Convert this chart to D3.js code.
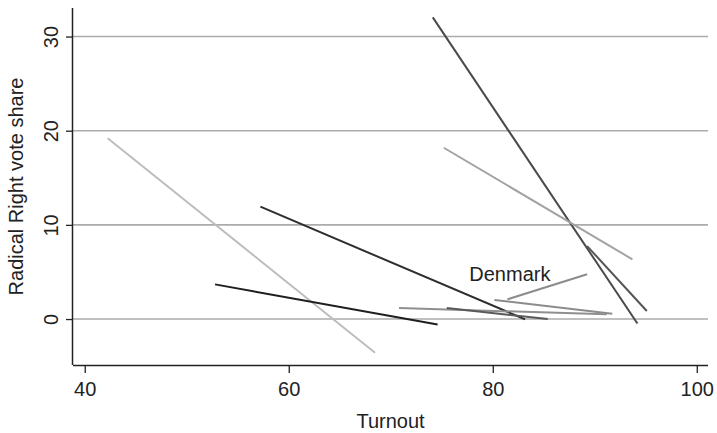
<!DOCTYPE html>
<html>
<head>
<meta charset="utf-8">
<script src="https://cdn.jsdelivr.net/npm/d3@7"></script>
<style>
  body { margin: 0; background: #fff; }
  text { font-family: "Liberation Sans", Arial, sans-serif; fill: #222; }
</style>
</head>
<body>
<svg id="chart" width="717" height="433"></svg>
<script>
// each segment = one country, turnout vs radical right vote share
var turnoutStart = [42.25, 52.77, 57.22, 74.12, 75.2, 89.25, 81.43, 80.16, 70.81, 75.49];
var voteStart    = [19.19, 3.68, 11.93, 32.04, 18.19, 7.75, 2.09, 2.02, 1.17, 1.17];
var turnoutEnd   = [68.46, 74.59, 83.17, 94.18, 93.69, 95.1, 89.25, 91.72, 91.18, 85.39];
var voteEnd      = [-3.58, -0.58, -0.03, -0.48, 6.34, 0.85, 4.75, 0.56, 0.5, 0.0];

var xTicks = [40, 60, 80, 100];
var yTicks = [0, 10, 20, 30];
var labelText = "Denmark";
var labelPos = [77.7, 4.07];

// line shades, same order as the segments
var shades = ["#bdbdbd", "#1e1e1e", "#2e2e2e", "#4a4a4a", "#a3a3a3", "#555", "#8c8c8c", "#8c8c8c", "#8f8f8f", "#5a5a5a"];

var svg = d3.select("#chart");
var plotLeft = 73, plotRight = 708, plotTop = 8, plotBottom = 365;   // "top" is taken by window.top

var x = d3.scaleLinear().domain([38.85, 101.1]).range([plotLeft, plotRight]);
var y = d3.scaleLinear().domain([-4.88, 33.03]).range([plotBottom, plotTop]);

// gridlines
svg.append("g").selectAll("line").data(yTicks).join("line")
    .attr("x1", plotLeft).attr("x2", plotRight)
    .attr("y1", d => y(d)).attr("y2", d => y(d))
    .attr("stroke", "#ababab").attr("stroke-width", 1.6);

// segments
var segs = turnoutStart.map(function (t, i) {
    return { x1: t, y1: voteStart[i], x2: turnoutEnd[i], y2: voteEnd[i], c: shades[i] };
});
svg.append("g").selectAll("line").data(segs).join("line")
    .attr("x1", d => x(d.x1)).attr("y1", d => y(d.y1))
    .attr("x2", d => x(d.x2)).attr("y2", d => y(d.y2))
    .attr("stroke", d => d.c).attr("stroke-width", 2);

// axes
var xAxis = svg.append("g").attr("transform", "translate(0," + plotBottom + ")")
    .call(d3.axisBottom(x).tickValues(xTicks).tickSize(8).tickFormat(d3.format("d")));
var yAxis = svg.append("g").attr("transform", "translate(" + plotLeft + ",0)")
    .call(d3.axisLeft(y).tickValues(yTicks).tickSize(7).tickFormat(d3.format("d")));

[xAxis, yAxis].forEach(function (a) {
    a.select(".domain").attr("stroke", "#222").attr("stroke-width", 1.5);
    a.selectAll(".tick line").attr("stroke", "#222").attr("stroke-width", 1.3);
    a.selectAll("text").attr("font-size", 20).attr("fill", "#222")
        .attr("font-family", "Liberation Sans, Arial, sans-serif");
});
// clean axis path ends (no outer ticks)
xAxis.select(".domain").attr("d", "M" + plotLeft + ",0.5H" + plotRight);
yAxis.select(".domain").attr("d", "M-0.5," + plotTop + "V" + plotBottom);

xAxis.selectAll(".tick text").attr("y", 31).attr("dy", 0);
yAxis.selectAll(".tick text")
    .attr("x", 0).attr("dy", 0)
    .attr("text-anchor", "middle")
    .attr("transform", "translate(-15,0) rotate(-90)");

// titles
svg.append("text").attr("x", (plotLeft + plotRight) / 2).attr("y", 428)
    .attr("text-anchor", "middle").attr("font-size", 20).text("Turnout");
svg.append("text")
    .attr("transform", "translate(23," + ((plotTop + plotBottom) / 2) + ") rotate(-90)")
    .attr("text-anchor", "middle").attr("font-size", 20).text("Radical Right vote share");

// annotation
svg.append("text").attr("x", x(labelPos[0])).attr("y", y(labelPos[1]))
    .attr("font-size", 20).text(labelText);
</script>
</body>
</html>
